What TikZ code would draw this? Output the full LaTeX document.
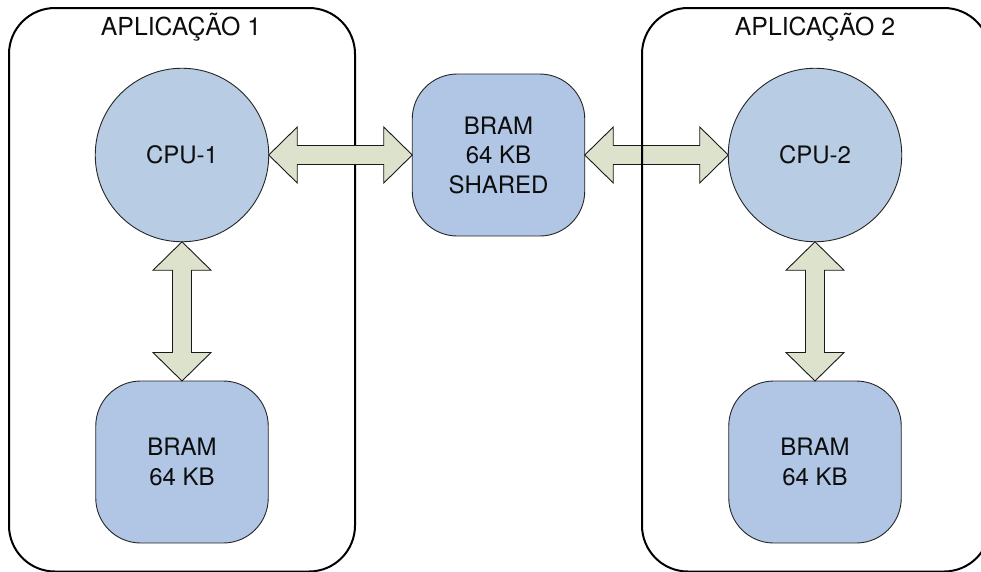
\documentclass[tikz,border=0pt]{standalone}
\usepackage{fontspec}
\setmainfont{TeX Gyre Heros}
\usetikzlibrary{calc}
\definecolor{cpufill}{HTML}{B8CCE4}
\definecolor{bramfill}{HTML}{B0C6E4}
\definecolor{busfill}{HTML}{DDE2CC}
\tikzset{
  every node/.style={inner sep=0pt,outer sep=0pt,font=\fontsize{24}{29.5}\selectfont,align=center,text=black!95},
  titletext/.style={font=\fontsize{24.8}{29.5}\selectfont},
  appbox/.style={draw=black,line width=2pt,rounded corners=46pt,rectangle},
  cpunode/.style={draw=black!85,line width=0.9pt,fill=cpufill,circle,minimum size=173.5pt},
  bramnode/.style={draw=black!85,line width=0.9pt,fill=bramfill,rectangle,rounded corners=45pt,minimum width=172.5pt,minimum height=162pt},
  busline/.style={draw=black!90,line width=0.9pt,fill=busfill,line join=miter},
}
% double-headed block arrows between two node anchors
\newcommand{\hbus}[2]{\draw[busline] (#1) -- ($(#1)+(28.5,-28)$) -- ($(#1)+(28.5,-9.5)$) -- ($(#2)+(-28.5,-9.5)$) -- ($(#2)+(-28.5,-28)$) -- (#2) -- ($(#2)+(-28.5,28)$) -- ($(#2)+(-28.5,9.5)$) -- ($(#1)+(28.5,9.5)$) -- ($(#1)+(28.5,28)$) -- cycle;}
\newcommand{\vbus}[2]{\draw[busline] (#1) -- ($(#1)+(29,28.5)$) -- ($(#1)+(9.5,28.5)$) -- ($(#2)+(9.5,-28.5)$) -- ($(#2)+(29,-28.5)$) -- (#2) -- ($(#2)+(-29,-28.5)$) -- ($(#2)+(-9.5,-28.5)$) -- ($(#1)+(-9.5,28.5)$) -- ($(#1)+(-29,28.5)$) -- cycle;}
\begin{document}
\begin{tikzpicture}[x=1pt,y=-1pt]
\useasboundingbox (0,0) rectangle (981,571);
\fill[white] (0,0) rectangle (981,571);
% left application frame, below its arrow
\node[appbox,minimum width=346pt,minimum height=563.5pt] (app1) at (182,289.75) {};
\node[titletext] (title1) at (181,27) {APLICAÇÃO 1};
\node[cpunode] (cpu1) at (182,155) {CPU-1};
\node[bramnode] (bram1) at (182,462) {BRAM\\64 KB};
\node[bramnode] (shared) at (498.5,155) {BRAM\\64 KB\\SHARED};
\node[cpunode] (cpu2) at (815,155) {CPU-2};
\node[bramnode] (bram2) at (815,462) {BRAM\\64 KB};
\hbus{cpu1.east}{shared.west}
\hbus{shared.east}{cpu2.west}
\vbus{cpu1.south}{bram1.north}
\vbus{cpu2.south}{bram2.north}
% right application frame, above its arrow; runs off the page on the right
\node[appbox,minimum width=348pt,minimum height=563.5pt] (app2) at (816,289.75) {};
\node[titletext] (title2) at (815,27) {APLICAÇÃO 2};
\end{tikzpicture}
\end{document}
